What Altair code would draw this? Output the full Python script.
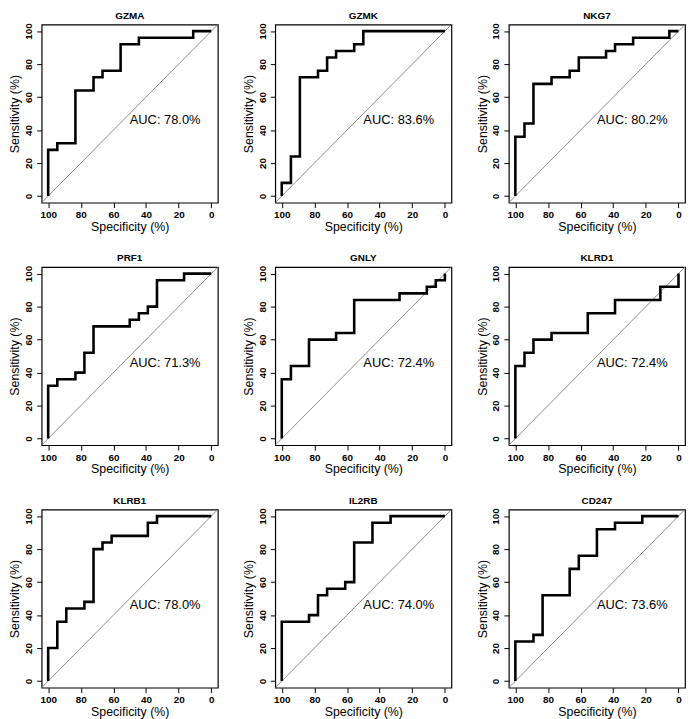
import altair as alt
import pandas as pd

FONT = "Liberation Sans"

genes = ["GZMA", "GZMK", "NKG7", "PRF1", "GNLY", "KLRD1", "KLRB1", "IL2RB", "CD247"]
auc_labels = ["AUC: 78.0%", "AUC: 83.6%", "AUC: 80.2%", "AUC: 71.3%", "AUC: 72.4%",
              "AUC: 72.4%", "AUC: 78.0%", "AUC: 74.0%", "AUC: 73.6%"]

# ROC curve corner points: specificity (%) and sensitivity (%)
GZMA_spec = [100, 100, 94.4, 94.4, 83.3, 83.3, 72.2, 72.2, 66.7, 66.7, 55.6, 55.6, 44.4, 44.4, 11.1, 11.1, 0]
GZMA_sens = [0, 28, 28, 32, 32, 64, 64, 72, 72, 76, 76, 92, 92, 96, 96, 100, 100]

GZMK_spec = [100, 100, 94.4, 94.4, 88.9, 88.9, 77.8, 77.8, 72.2, 72.2, 66.7, 66.7, 55.6, 55.6, 50, 50, 0]
GZMK_sens = [0, 8, 8, 24, 24, 72, 72, 76, 76, 84, 84, 88, 88, 92, 92, 100, 100]

NKG7_spec = [100, 100, 94.4, 94.4, 88.9, 88.9, 77.8, 77.8, 66.7, 66.7, 61.1, 61.1, 44.4, 44.4, 38.9, 38.9, 27.8, 27.8, 5.6, 5.6, 0]
NKG7_sens = [0, 36, 36, 44, 44, 68, 68, 72, 72, 76, 76, 84, 84, 88, 88, 92, 92, 96, 96, 100, 100]

PRF1_spec = [100, 100, 94.4, 94.4, 83.3, 83.3, 77.8, 77.8, 72.2, 72.2, 50, 50, 44.4, 44.4, 38.9, 38.9, 33.3, 33.3, 16.7, 16.7, 0]
PRF1_sens = [0, 32, 32, 36, 36, 40, 40, 52, 52, 68, 68, 72, 72, 76, 76, 80, 80, 96, 96, 100, 100]

GNLY_spec = [100, 100, 94.4, 94.4, 83.3, 83.3, 66.7, 66.7, 55.6, 55.6, 27.8, 27.8, 11.1, 11.1, 5.6, 5.6, 0, 0]
GNLY_sens = [0, 36, 36, 44, 44, 60, 60, 64, 64, 84, 84, 88, 88, 92, 92, 96, 96, 100]

KLRD1_spec = [100, 100, 94.4, 94.4, 88.9, 88.9, 77.8, 77.8, 55.6, 55.6, 38.9, 38.9, 11.1, 11.1, 0, 0]
KLRD1_sens = [0, 44, 44, 52, 52, 60, 60, 64, 64, 76, 76, 84, 84, 92, 92, 100]

KLRB1_spec = [100, 100, 94.4, 94.4, 88.9, 88.9, 77.8, 77.8, 72.2, 72.2, 66.7, 66.7, 61.1, 61.1, 38.9, 38.9, 33.3, 33.3, 0]
KLRB1_sens = [0, 20, 20, 36, 36, 44, 44, 48, 48, 80, 80, 84, 84, 88, 88, 96, 96, 100, 100]

IL2RB_spec = [100, 100, 83.3, 83.3, 77.8, 77.8, 72.2, 72.2, 61.1, 61.1, 55.6, 55.6, 44.4, 44.4, 33.3, 33.3, 0]
IL2RB_sens = [0, 36, 36, 40, 40, 52, 52, 56, 56, 60, 60, 84, 84, 96, 96, 100, 100]

CD247_spec = [100, 100, 88.9, 88.9, 83.3, 83.3, 66.7, 66.7, 61.1, 61.1, 50, 50, 38.9, 38.9, 22.2, 22.2, 0]
CD247_sens = [0, 24, 24, 28, 28, 52, 52, 68, 68, 76, 76, 92, 92, 96, 96, 100, 100]

curves = {
    "GZMA": (GZMA_spec, GZMA_sens),
    "GZMK": (GZMK_spec, GZMK_sens),
    "NKG7": (NKG7_spec, NKG7_sens),
    "PRF1": (PRF1_spec, PRF1_sens),
    "GNLY": (GNLY_spec, GNLY_sens),
    "KLRD1": (KLRD1_spec, KLRD1_sens),
    "KLRB1": (KLRB1_spec, KLRB1_sens),
    "IL2RB": (IL2RB_spec, IL2RB_sens),
    "CD247": (CD247_spec, CD247_sens),
}

# chance diagonal (spans the full extended plot region)
diag_spec = [104, -4]
diag_sens = [-4, 104]

# AUC label anchor (data units)
auc_x = 50
auc_y = 50

axis_ticks = [100, 80, 60, 40, 20, 0]
PW, PH = 178, 180

xscale = alt.Scale(domain=[104, -4], nice=False, zero=False)
yscale = alt.Scale(domain=[-4, 104], nice=False, zero=False)

xaxis = alt.Axis(values=axis_ticks, title="Specificity (%)", labelFontWeight="bold",
                 labelFontSize=10, titleFontSize=12.5, titleFontWeight="normal",
                 tickSize=5, labelPadding=2, titlePadding=1, domain=False, grid=False,
                 tickColor="black", labelColor="black", titleColor="black", labelFlush=False)
yaxis = alt.Axis(values=axis_ticks, title="Sensitivity (%)", labelFontWeight="bold",
                 labelFontSize=10, titleFontSize=12.5, titleFontWeight="normal",
                 labelAngle=-90, labelAlign="center", labelBaseline="bottom",
                 tickSize=5, labelPadding=3, titlePadding=2, domain=False, grid=False,
                 tickColor="black", labelColor="black", titleColor="black", labelFlush=False)


def panel(gene, auc):
    spec, sens = curves[gene]
    df = pd.DataFrame({"spec": spec, "sens": sens, "i": list(range(len(spec)))})
    ddf = pd.DataFrame({"spec": diag_spec, "sens": diag_sens, "i": [0, 1]})
    tdf = pd.DataFrame({"spec": [auc_x], "sens": [auc_y], "t": [auc]})

    diag = alt.Chart(ddf).mark_line(color="#8c8c8c", strokeWidth=1, clip=True).encode(
        x=alt.X("spec:Q", scale=xscale, axis=xaxis),
        y=alt.Y("sens:Q", scale=yscale, axis=yaxis),
        order="i:Q",
    )
    line = alt.Chart(df).mark_line(color="black", strokeWidth=2.6, strokeJoin="miter",
                                   clip=True).encode(
        x=alt.X("spec:Q", scale=xscale, axis=xaxis),
        y=alt.Y("sens:Q", scale=yscale, axis=yaxis),
        order="i:Q",
    )
    text = alt.Chart(tdf).mark_text(align="left", baseline="top", fontSize=13,
                                    font=FONT, color="black", dy=1).encode(
        x=alt.X("spec:Q", scale=xscale, axis=xaxis),
        y=alt.Y("sens:Q", scale=yscale, axis=yaxis),
        text="t:N",
    )
    return alt.layer(diag, line, text).properties(
        width=PW, height=PH,
        title=alt.TitleParams(gene, fontSize=10, fontWeight="bold", font=FONT,
                              color="black", offset=2, anchor="middle"),
    )


panels = [panel(g, a) for g, a in zip(genes, auc_labels)]
rows = [alt.hconcat(*panels[r * 3:(r + 1) * 3], spacing=23) for r in range(3)]
chart = alt.vconcat(*rows, spacing=18).properties(
    padding={"top": -2, "left": 0, "right": 0, "bottom": 0}
).configure(
    font=FONT,
).configure_view(
    stroke="black", strokeWidth=1.2,
).configure_axis(
    labelFont=FONT, titleFont=FONT,
)

chart.save("out.html", embed_options={"renderer": "svg", "actions": False})
